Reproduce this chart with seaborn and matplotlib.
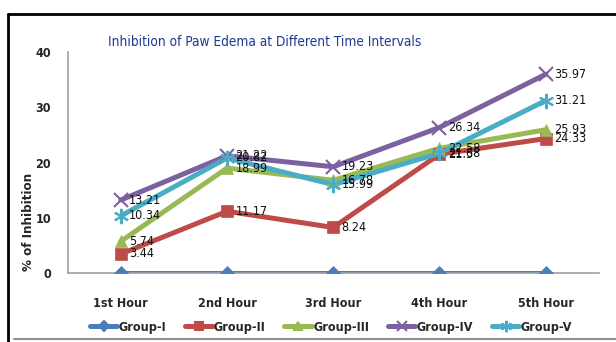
import matplotlib
matplotlib.use("Agg")
import matplotlib.pyplot as plt
from matplotlib.lines import Line2D
import seaborn as sns
import pandas as pd

hours = ["1st Hour", "2nd Hour", "3rd Hour", "4th Hour", "5th Hour"]
groups = ["Group-I", "Group-II", "Group-III", "Group-IV", "Group-V"]
group_i = [0, 0, 0, 0, 0]
group_ii = [3.44, 11.17, 8.24, 21.5, 24.33]
group_iii = [5.74, 18.99, 16.78, 22.58, 25.93]
group_iv = [13.21, 21.22, 19.23, 26.34, 35.97]
group_v = [10.34, 20.82, 15.99, 21.68, 31.21]
series = [group_i, group_ii, group_iii, group_iv, group_v]

colors = ["#4A7EBB", "#BE4B48", "#98B954", "#7D60A0", "#4BACC6"]
markers = ["D", "s", "^", "x", (6, 2, 0)]
msizes = [7, 8, 8, 10, 11]

rows = []
for g, vals in zip(groups, series):
    for i, v in enumerate(vals):
        rows.append({"hour": i, "Hour": hours[i], "Group": g, "value": v})
df = pd.DataFrame(rows)

sns.set_theme(style="white")
plt.rcParams["font.family"] = ["DejaVu Sans"]
plt.rcParams["font.stretch"] = "condensed"

fig = plt.figure(figsize=(6.16, 3.42), dpi=100)
ax = fig.add_axes([0.110, 0.2018, 0.862, 0.646])

pal = dict(zip(groups, colors))
sns.lineplot(data=df, x="hour", y="value", hue="Group", palette=pal,
             linewidth=3.6, legend=False, ax=ax, sort=False)
for g, vals, c, m, ms in zip(groups, series, colors, markers, msizes):
    sub = df[df["Group"] == g]
    ax.plot(sub["hour"], sub["value"], linestyle="none", marker=m, markersize=ms,
            color=c, markeredgecolor=c, markeredgewidth=1.5 if m in ("x", (6, 2, 0)) else 0.5,
            zorder=3)

# value labels right of each point (Group-I stays unlabeled at zero)
for vals in series[1:]:
    for i, v in enumerate(vals):
        ax.annotate(f"{v:g}", (i, v), xytext=(6, 0), textcoords="offset points",
                    ha="left", va="center", fontsize=9, color="#111111")

ax.set_xlim(-0.5, 4.5)
ax.set_ylim(0, 40)
ax.set_yticks([0, 10, 20, 30, 40])
ax.set_yticklabels(["0", "10", "20", "30", "40"], fontsize=9, fontweight="bold")
ax.set_xticks(range(5))
ax.set_xticklabels(hours, fontsize=9, fontweight="bold")
ax.tick_params(axis="y", length=0, pad=12)
ax.tick_params(axis="x", length=0, pad=17)
ax.set_xlabel("")
ax.set_ylabel("")
for s in ["top", "right"]:
    ax.spines[s].set_visible(False)
for s in ["left", "bottom"]:
    ax.spines[s].set_color("#A0A0A0")
    ax.spines[s].set_linewidth(1.2)

fig.text(29 / 616, 1 - 222 / 342, "% of Inhibition", rotation=90, ha="center", va="center",
         fontsize=9.5, fontweight="bold")
fig.text(265 / 616, 1 - 42 / 342, "Inhibition of Paw Edema at Different Time Intervals",
         ha="center", va="center", fontsize=9.8, color="#1F3A93")

handles = [Line2D([0], [0], color=c, marker=m, markersize=ms * 0.75, linewidth=3.6,
                  markeredgecolor=c, markeredgewidth=1.5)
           for c, m, ms in zip(colors, markers, msizes)]
fig.legend(handles, groups, loc="center", bbox_to_anchor=(331 / 616, 1 - 327 / 342), ncol=5,
           frameon=False, handlelength=2.2, handletextpad=0.1,
           columnspacing=1.5, prop={"weight": "bold", "size": 9})

# outer frame
fig.add_artist(Line2D([7.5 / 616, 7.5 / 616], [0, 1 - 14 / 342], color="black",
                      linewidth=2, transform=fig.transFigure))
fig.add_artist(Line2D([7.5 / 616, 1], [1 - 14 / 342, 1 - 14 / 342], color="black",
                      linewidth=2, transform=fig.transFigure))
fig.add_artist(Line2D([14 / 616, 1], [1 - 339 / 342, 1 - 339 / 342], color="#909090",
                      linewidth=1.5, transform=fig.transFigure))

fig.savefig("out.png", dpi=100)
